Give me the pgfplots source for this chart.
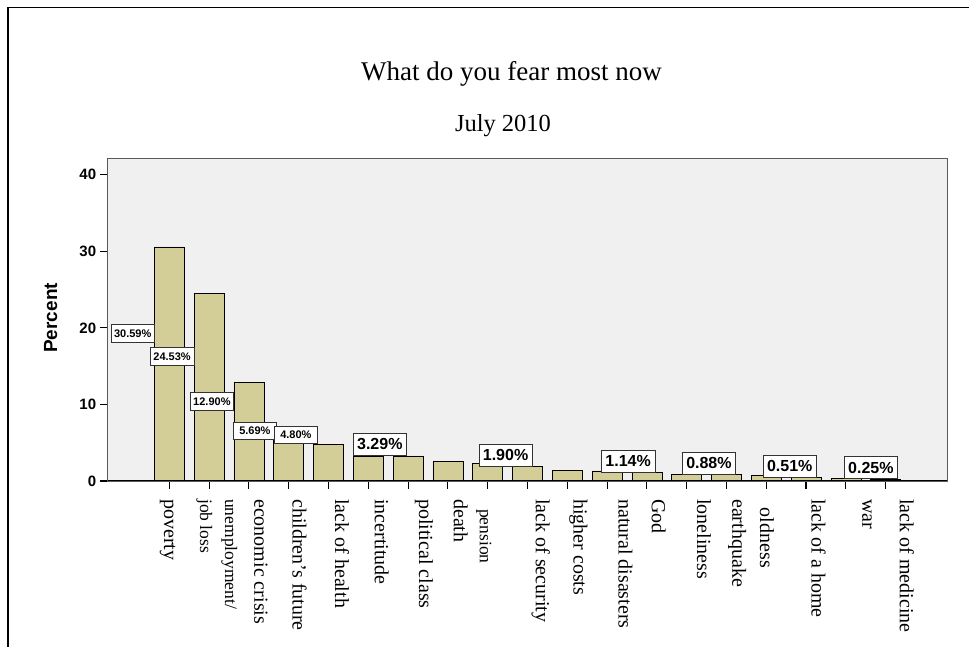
\documentclass[border=0pt]{standalone}
\usepackage{fontspec}
\setmainfont{Liberation Serif}
\setsansfont{Liberation Sans}
\usepackage{pgfplots}
\pgfplotsset{compat=1.18}
\definecolor{barcol}{RGB}{211,206,151}
\definecolor{bgcol}{RGB}{240,240,240}
\newcommand{\tl}[3]{\hspace*{\dimexpr#2pt+10pt\relax}\raisebox{#1pt}[0pt][0pt]{#3}}
\tikzset{
  lab/.style={draw=black!80, fill=white, line width=0.6pt, inner sep=0pt,
    minimum width=43.7pt, minimum height=17.5pt,
    font=\fontsize{11}{11}\selectfont\sffamily\bfseries},
  labb/.style={lab, minimum width=53.3pt, minimum height=22pt,
    font=\fontsize{16}{16}\selectfont\sffamily\bfseries}
}
\begin{document}
\begin{tikzpicture}
\useasboundingbox (0,0) rectangle (969pt,647pt);
\draw[line width=1.5pt] (8pt,0) -- (8pt,639.5pt) -- (969pt,639.5pt);
\node[anchor=base, font=\fontsize{27}{30}\selectfont] at (511.5pt,566.3pt) {What do you fear most now};
\node[anchor=base, font=\fontsize{24.5}{28}\selectfont] at (503pt,515.3pt) {July 2010};
\begin{axis}[
  at={(107.7pt,166pt)}, anchor=south west,
  scale only axis, width=840pt, height=323pt,
  xmin=-1.548, xmax=19.56, ymin=0, ymax=42.2,
  ytick={0,10,20,30,40},
  xtick={0,...,18},
  xticklabels={
    {\tl{-5.2}{0}{poverty}},
    {\tl{-8.9}{0}{\fontsize{17.5}{25}\selectfont\begin{tabular}[b]{@{}l@{}}unemployment/\\job loss\end{tabular}}},
    {\tl{5.6}{0}{economic crisis}},
    {\tl{3.9}{0}{children’s future}},
    {\tl{6.6}{0}{lack of health}},
    {\tl{6.6}{0}{incertitude}},
    {\tl{11}{0}{political class}},
    {\tl{5.9}{0}{death}},
    {\tl{-7.9}{10}{\fontsize{17.5}{20}\selectfont pension}},
    {\tl{8.4}{0}{lack of security}},
    {\tl{6.4}{0}{higher costs}},
    {\tl{11.6}{0}{natural disasters}},
    {\tl{4.9}{0}{God}},
    {\tl{10.5}{0}{loneliness}},
    {\tl{6}{0}{earthquake}},
    {\tl{-6.1}{8.7}{oldness}},
    {\tl{5.5}{0}{lack of a home}},
    {\tl{16.5}{0}{war}},
    {\tl{14.2}{0}{lack of medicine}}
  },
  tick align=outside, xtick pos=bottom, ytick pos=left,
  major tick length=8pt,
  tick style={draw=black, line width=1.1pt},
  axis on top,
  axis line style={black!65, line width=0.8pt},
  axis background/.style={fill=bgcol},
  yticklabel style={font=\fontsize{15}{15}\selectfont\sffamily\bfseries,
    /pgf/number format/assume math mode=true},
  xticklabel style={rotate=-90, anchor=west, inner sep=0pt,
    font=\fontsize{20}{25}\selectfont},
  ylabel={Percent},
  ylabel style={at={(axis description cs:-0.0679,0.505)}, anchor=center,
    font=\fontsize{19}{19}\selectfont\sffamily\bfseries},
  clip=false
]
\addplot[ybar, bar width=30pt, fill=barcol, draw=black, line width=0.6pt]
  coordinates {
  (0,30.59) (1,24.53) (2,12.90) (3,5.69) (4,4.80) (5,3.29) (6,3.29)
  (7,2.53) (8,2.28) (9,1.90) (10,1.39) (11,1.33) (12,1.14) (13,0.88)
  (14,0.88) (15,0.70) (16,0.51) (17,0.38) (18,0.25)
  };
\draw[black, line width=1.2pt] (rel axis cs:0,1) -- (rel axis cs:0,0) -- (rel axis cs:1,0);
\node[lab] at (axis cs:-0.92,19.3) {30.59\%};
\node[lab] at (axis cs:0.07,16.3) {24.53\%};
\node[lab] at (axis cs:1.07,10.4) {12.90\%};
\node[lab] at (axis cs:2.15,6.54) {5.69\%};
\node[lab] at (axis cs:3.18,6.01) {4.80\%};
\node[labb] at (axis cs:5.29,4.84) {3.29\%};
\node[labb] at (axis cs:8.45,3.40) {1.90\%};
\node[labb] at (axis cs:11.53,2.61) {1.14\%};
\node[labb] at (axis cs:13.56,2.35) {0.88\%};
\node[labb] at (axis cs:15.59,1.96) {0.51\%};
\node[labb] at (axis cs:17.63,1.74) {0.25\%};
\end{axis}
\end{tikzpicture}
\end{document}
